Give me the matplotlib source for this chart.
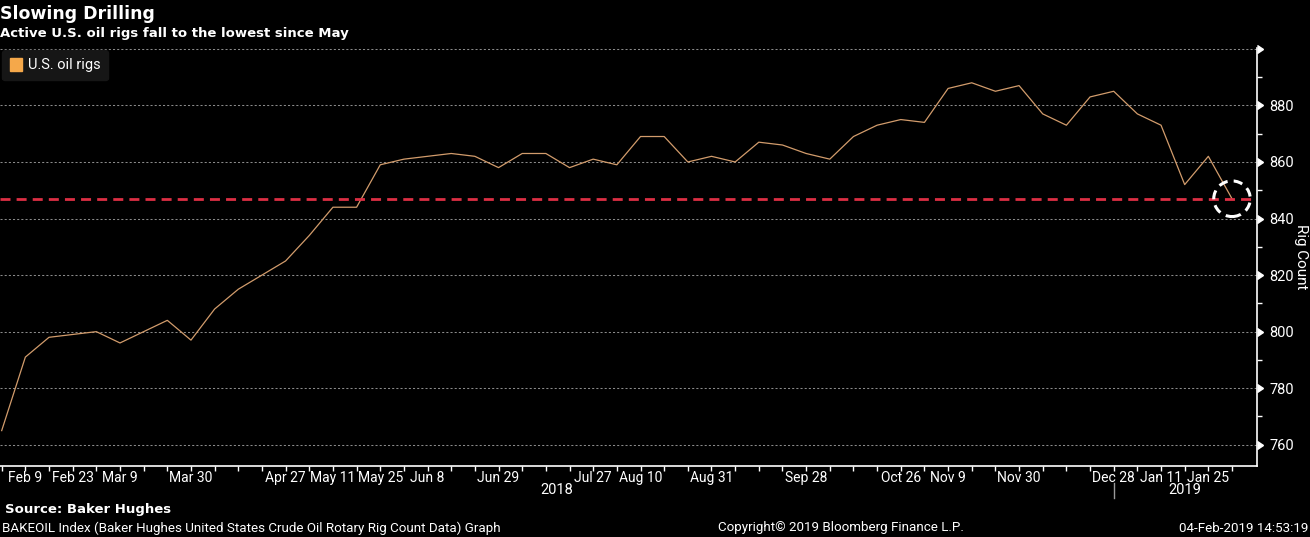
import pandas as pd
import numpy as np
import matplotlib
matplotlib.use("Agg")
import matplotlib.pyplot as plt
import matplotlib.dates as mdates
from matplotlib.patches import Patch, Ellipse
from matplotlib.markers import CARETRIGHTBASE

# Baker Hughes weekly U.S. oil rig count, Feb 2 2018 - Feb 1 2019
rig_counts = [765, 791, 798, 799, 800, 796, 800, 804, 797, 808, 815, 820, 825,
              834, 844, 844, 859, 861, 862, 863, 862, 858, 863, 863, 858, 861,
              859, 869, 869, 860, 862, 860, 867, 866, 863, 861, 869, 873, 875,
              874, 886, 888, 885, 887, 877, 873, 883, 885, 877, 873, 852, 862,
              847]
weeks = pd.date_range("2018-02-02", periods=len(rig_counts), freq="7D")
labelled_weeks = ["Feb 9", "Feb 23", "Mar 9", "Mar 30", "Apr 27", "May 11",
                  "May 25", "Jun 8", "Jun 29", "Jul 27", "Aug 10", "Aug 31",
                  "Sep 28", "Oct 26", "Nov 9", "Nov 30", "Dec 28", "Jan 11",
                  "Jan 25"]
lowest_level = 847
y_ticks = [760, 780, 800, 820, 840, 860, 880, 900]
y_tick_labels = ["760", "780", "800", "820", "840", "860", "880", ""]

narrow = "Roboto"
line_color = "#d29c6c"
legend_color = "#f5a84a"
red = "#dc2f44"
grid_color = "#8a8a8a"

fig = plt.figure(figsize=(13.1, 5.37), dpi=100, facecolor="black")
ax = fig.add_axes([0.0, 0.1328, 0.9593, 0.7778], facecolor="black")

ax.plot(weeks, rig_counts, color=line_color, lw=0.9, zorder=3)
ax.axhline(lowest_level, color=red, lw=2.0, dashes=(3.6, 2.2), zorder=4)

# circle around latest value
last = mdates.date2num(weeks[-1])
ax.add_patch(Ellipse((last, rig_counts[-1]), width=10.8, height=12.6,
                     fill=False, ec="white", lw=2.2, ls=(0, (3.0, 2.0)),
                     zorder=5, clip_on=False))

x_left = mdates.date2num(weeks[0]) - 0.5
x_right = mdates.date2num(weeks[-1]) + 7.3
ax.set_xlim(x_left, x_right)
ax.set_ylim(752.6, 900.3)

def week_label(d):
    s = d.strftime("%b ") + str(d.day)
    return s if s in labelled_weeks else ""

ax.set_xticks(weeks)
ax.set_xticklabels([week_label(d) for d in weeks])
ax.tick_params(axis="x", colors="white", length=3.5, width=1, pad=0.5,
               labelsize=10, labelfontfamily=narrow)

ax.yaxis.tick_right()
ax.yaxis.set_label_position("right")
ax.set_yticks(y_ticks)
ax.set_yticklabels(y_tick_labels)
ax.set_yticks(np.arange(770, 900, 20), minor=True)
ax.tick_params(axis="y", which="major", colors="white", length=6, width=1,
               pad=3, labelsize=10.5, labelfontfamily=narrow)
ax.tick_params(axis="y", which="minor", colors="white", length=3.5, width=1)
for t in ax.yaxis.get_major_ticks():
    t.tick2line.set_marker(CARETRIGHTBASE)
    t.tick2line.set_markersize(6)
ax.set_ylabel("Rig Count", color="white", rotation=270, labelpad=10,
              fontsize=11, fontfamily=narrow)

ax.grid(axis="y", color=grid_color, lw=0.75, ls=(0, (2, 2)))
ax.set_axisbelow(True)
for side in ["left", "top"]:
    ax.spines[side].set_visible(False)
for side in ["right", "bottom"]:
    ax.spines[side].set_color("white")
    ax.spines[side].set_linewidth(1.2)

# year divider and year labels
divider = mdates.date2num(pd.Timestamp("2018-12-28"))
xt = ax.get_xaxis_transform()
ax.plot([divider, divider], [-0.041, -0.077], transform=xt, clip_on=False,
        color="#9a9a9a", lw=1)
ax.text((x_left + divider) / 2, -0.058, "2018", transform=xt, color="white",
        ha="center", va="center", fontsize=10.5, fontfamily=narrow)
ax.text((divider + x_right) / 2, -0.058, "2019", transform=xt, color="white",
        ha="center", va="center", fontsize=10.5, fontfamily=narrow)

leg = ax.legend(handles=[Patch(color=legend_color, label="U.S. oil rigs")],
                loc="upper left", bbox_to_anchor=(0.0016, 0.995),
                borderaxespad=0, handlelength=0.85, handleheight=0.95,
                handletextpad=0.35, borderpad=0.55,
                facecolor="#161616", edgecolor="#161616", framealpha=1,
                fancybox=True, prop={"family": narrow, "size": 10.5})
for txt in leg.get_texts():
    txt.set_color("white")

fig.text(0.0, 1 - 14 / 537, "Slowing Drilling", color="white", fontsize=12.5,
         fontweight="bold", va="center", ha="left")
fig.text(0.0, 1 - 33 / 537, "Active U.S. oil rigs fall to the lowest since May",
         color="white", fontsize=9.5, fontweight="bold", va="center", ha="left")
fig.text(5 / 1310, 1 - 510 / 537, "Source: Baker Hughes", color="white",
         fontsize=9.5, fontweight="bold", va="center", ha="left")
fig.text(2 / 1310, 1 - 528 / 537,
         "BAKEOIL Index (Baker Hughes United States Crude Oil Rotary Rig Count Data) Graph",
         color="white", fontsize=9.6, va="center", ha="left", fontfamily=narrow)
fig.text(718 / 1310, 1 - 528 / 537, "Copyright\u00a9 2019 Bloomberg Finance L.P.",
         color="white", fontsize=9.6, va="center", ha="left", fontfamily=narrow)
fig.text(1308 / 1310, 1 - 528 / 537, "04-Feb-2019 14:53:19", color="white",
         fontsize=9.6, va="center", ha="right", fontfamily=narrow)

fig.savefig("out.png", dpi=100, facecolor="black")
